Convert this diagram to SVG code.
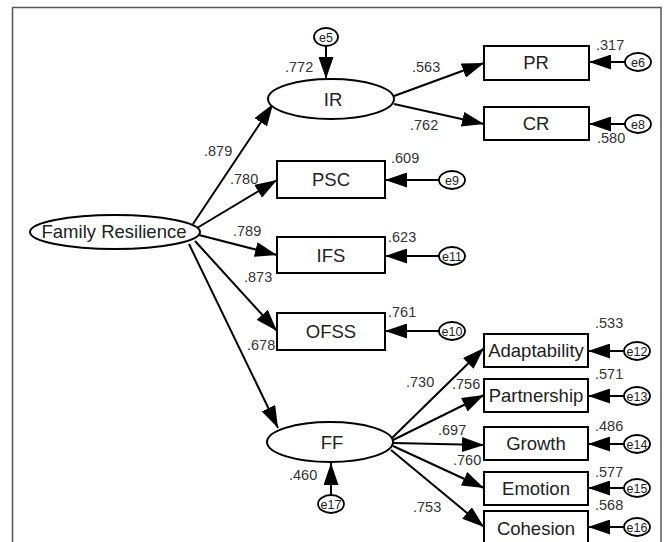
<svg xmlns="http://www.w3.org/2000/svg" width="667" height="542" viewBox="0 0 667 542">
<defs>
<marker id="ah" markerUnits="userSpaceOnUse" markerWidth="23" markerHeight="15" refX="22" refY="7.5" orient="auto">
<path d="M0,0 L22,7.5 L0,15 Z" fill="#000"/>
</marker>
<style>
.bx{fill:#fff;stroke:#000;stroke-width:2}
.el{fill:#fff;stroke:#000;stroke-width:2}
.er{fill:#fff;stroke:#000;stroke-width:1.8}
.c{stroke:#000;stroke-width:2;fill:none;marker-end:url(#ah)}
.t{font-family:"Liberation Sans",Arial,sans-serif;font-size:18.5px;fill:#222;text-anchor:middle}
.e{font-family:"Liberation Sans",Arial,sans-serif;font-size:12.5px;fill:#222;text-anchor:middle}
.n{font-family:"Liberation Sans",Arial,sans-serif;font-size:14.5px;fill:#333}
</style>
</defs>
<rect width="667" height="542" fill="#fff"/>
<path d="M12.5,560 V7.5 H661 V560" fill="none" stroke="#555" stroke-width="1.5"/>
<g id="connectors">
<line class="c" x1="326" y1="46" x2="326" y2="79"/>
<line class="c" x1="394" y1="96" x2="484" y2="63"/>
<line class="c" x1="394" y1="104" x2="484" y2="124"/>
<line class="c" x1="625" y1="62" x2="589" y2="62"/>
<line class="c" x1="625" y1="124" x2="589" y2="124"/>
<line class="c" x1="193" y1="224" x2="273" y2="104"/>
<line class="c" x1="197" y1="228" x2="277" y2="180"/>
<line class="c" x1="199" y1="235" x2="277" y2="255"/>
<line class="c" x1="195" y1="241" x2="277" y2="331"/>
<line class="c" x1="189" y1="244" x2="278" y2="428"/>
<line class="c" x1="439" y1="180" x2="385" y2="180"/>
<line class="c" x1="439" y1="256" x2="385" y2="256"/>
<line class="c" x1="439" y1="331" x2="385" y2="331"/>
<line class="c" x1="392" y1="438" x2="484" y2="348"/>
<line class="c" x1="393" y1="440" x2="484" y2="395"/>
<line class="c" x1="393" y1="443" x2="484" y2="445"/>
<line class="c" x1="393" y1="446" x2="484" y2="488"/>
<line class="c" x1="391" y1="450" x2="484" y2="527"/>
<line class="c" x1="624" y1="351" x2="588" y2="351"/>
<line class="c" x1="624" y1="396" x2="588" y2="396"/>
<line class="c" x1="624" y1="444" x2="588" y2="444"/>
<line class="c" x1="624" y1="488" x2="588" y2="488"/>
<line class="c" x1="624" y1="527" x2="588" y2="527"/>
<line class="c" x1="331" y1="495" x2="331" y2="463"/>
</g>
<g id="FR"><ellipse class="el" cx="115" cy="232" rx="85" ry="17"/><text class="t" x="114" y="238">Family Resilience</text></g>
<g id="IR"><ellipse class="el" cx="331" cy="99" rx="63" ry="20"/><text class="t" x="333" y="106">IR</text></g>
<g id="FF"><ellipse class="el" cx="330" cy="442" rx="63" ry="20"/><text class="t" x="332" y="449">FF</text></g>
<g id="PR"><rect class="bx" x="484" y="46" width="105" height="34"/><text class="t" x="536" y="69">PR</text></g>
<g id="CR"><rect class="bx" x="484" y="107" width="105" height="33"/><text class="t" x="536" y="130">CR</text></g>
<g id="PSC"><rect class="bx" x="277" y="161" width="108" height="37"/><text class="t" x="331" y="186">PSC</text></g>
<g id="IFS"><rect class="bx" x="277" y="237" width="108" height="36"/><text class="t" x="331" y="262">IFS</text></g>
<g id="OFSS"><rect class="bx" x="277" y="313" width="108" height="37"/><text class="t" x="331" y="338">OFSS</text></g>
<g id="Adaptability"><rect class="bx" x="484" y="334" width="104" height="33"/><text class="t" x="536" y="357">Adaptability</text></g>
<g id="Partnership"><rect class="bx" x="484" y="379" width="104" height="33"/><text class="t" x="536" y="402">Partnership</text></g>
<g id="Growth"><rect class="bx" x="484" y="427" width="104" height="33"/><text class="t" x="536" y="450">Growth</text></g>
<g id="Emotion"><rect class="bx" x="484" y="472" width="104" height="33"/><text class="t" x="536" y="495">Emotion</text></g>
<g id="Cohesion"><rect class="bx" x="484" y="511" width="104" height="36"/><text class="t" x="536" y="535">Cohesion</text></g>
<g id="e5"><ellipse class="er" cx="326" cy="37" rx="12" ry="9"/><text class="e" x="326" y="41.5">e5</text></g>
<g id="e6"><ellipse class="er" cx="638" cy="62" rx="13" ry="9"/><text class="e" x="638" y="66.5">e6</text></g>
<g id="e8"><ellipse class="er" cx="638" cy="124" rx="13" ry="9"/><text class="e" x="638" y="128.5">e8</text></g>
<g id="e9"><ellipse class="er" cx="452" cy="180" rx="13" ry="9"/><text class="e" x="452" y="184.5">e9</text></g>
<g id="e11"><ellipse class="er" cx="452" cy="256" rx="13" ry="9"/><text class="e" x="452" y="260.5">e11</text></g>
<g id="e10"><ellipse class="er" cx="452" cy="331" rx="13" ry="9"/><text class="e" x="452" y="335.5">e10</text></g>
<g id="e12"><ellipse class="er" cx="637" cy="351" rx="13" ry="9"/><text class="e" x="637" y="355.5">e12</text></g>
<g id="e13"><ellipse class="er" cx="637" cy="396" rx="13" ry="9"/><text class="e" x="637" y="400.5">e13</text></g>
<g id="e14"><ellipse class="er" cx="637" cy="444" rx="13" ry="9"/><text class="e" x="637" y="448.5">e14</text></g>
<g id="e15"><ellipse class="er" cx="637" cy="488" rx="13" ry="9"/><text class="e" x="637" y="492.5">e15</text></g>
<g id="e16"><ellipse class="er" cx="637" cy="527" rx="13" ry="9"/><text class="e" x="637" y="531.5">e16</text></g>
<g id="e17"><ellipse class="er" cx="331" cy="504" rx="13" ry="9"/><text class="e" x="331" y="508.5">e17</text></g>
<g id="labels">
<text class="n" x="285" y="72">.772</text>
<text class="n" x="412" y="72">.563</text>
<text class="n" x="410" y="130">.762</text>
<text class="n" x="596" y="50">.317</text>
<text class="n" x="597" y="143">.580</text>
<text class="n" x="204" y="156">.879</text>
<text class="n" x="230" y="184">.780</text>
<text class="n" x="233" y="236">.789</text>
<text class="n" x="244" y="282">.873</text>
<text class="n" x="247" y="350">.678</text>
<text class="n" x="391" y="163">.609</text>
<text class="n" x="388" y="242">.623</text>
<text class="n" x="388" y="317">.761</text>
<text class="n" x="406" y="387">.730</text>
<text class="n" x="452" y="389">.756</text>
<text class="n" x="438" y="435">.697</text>
<text class="n" x="453" y="465">.760</text>
<text class="n" x="413" y="512">.753</text>
<text class="n" x="289" y="480">.460</text>
<text class="n" x="595" y="328">.533</text>
<text class="n" x="595" y="379">.571</text>
<text class="n" x="595" y="431">.486</text>
<text class="n" x="595" y="477">.577</text>
<text class="n" x="595" y="510">.568</text>
</g>
</svg>
